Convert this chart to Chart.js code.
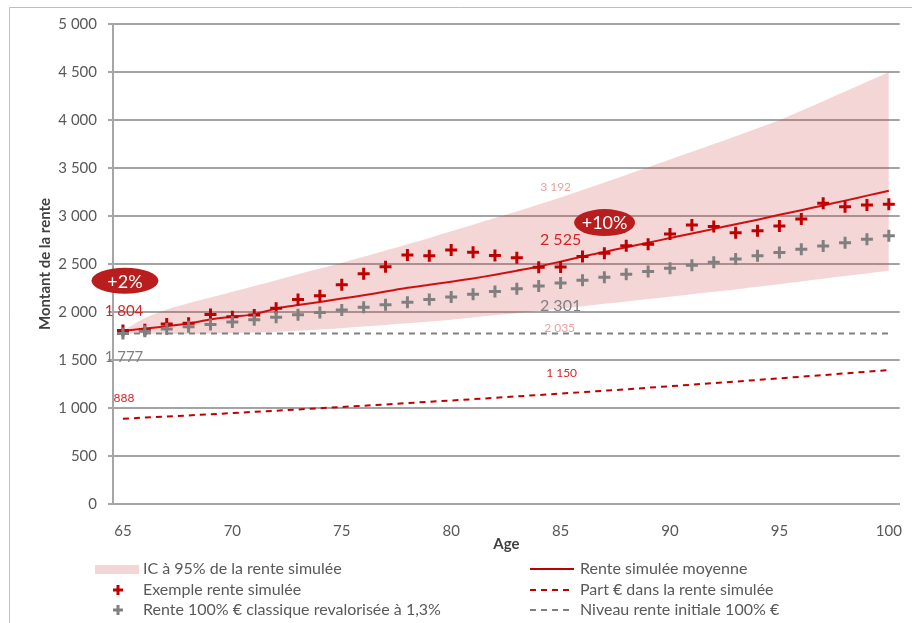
<!DOCTYPE html>
<html>
<head>
<meta charset="utf-8">
<script src="https://cdn.jsdelivr.net/npm/chart.js@4.4.1/dist/chart.umd.min.js"></script>
<style>
  html, body { margin: 0; padding: 0; background: #ffffff; }
  #wrap { position: relative; width: 912px; height: 623px; }
</style>
</head>
<body>
<div id="wrap"><canvas id="c" width="912" height="623"></canvas></div>
<script>
// Âge du rentier
const ages = [65,66,67,68,69,70,71,72,73,74,75,76,77,78,79,80,81,82,83,84,85,86,87,88,89,90,91,92,93,94,95,96,97,98,99,100];

// Intervalle de confiance à 95 % de la rente simulée (bornes basse et haute)
const icBas = [1777,1775,1772,1772,1775,1780,1787,1795,1805,1818,1832,1848,1865,1882,1900,1920,1942,1965,1988,2012,2035,2060,2085,2110,2135,2160,2185,2210,2235,2262,2290,2318,2346,2374,2402,2430];
const icHaut = [1804,1935,2025,2090,2150,2210,2270,2330,2392,2452,2512,2575,2640,2705,2772,2840,2908,2978,3048,3120,3192,3270,3348,3428,3508,3588,3668,3750,3832,3915,3998,4096,4196,4296,4398,4500];

// Exemple de trajectoire simulée
const exempleRente = [1806,1815,1875,1882,1975,1950,1968,2038,2130,2168,2285,2398,2472,2594,2585,2646,2622,2588,2566,2465,2468,2578,2612,2690,2705,2812,2906,2890,2826,2847,2896,2970,3132,3097,3115,3122];

// Rente 100 % € classique revalorisée à 1,3 %
const rente100 = [1777,1800,1823,1847,1871,1896,1920,1945,1971,1996,2022,2049,2075,2102,2130,2157,2185,2214,2243,2272,2301,2331,2361,2392,2423,2455,2487,2519,2552,2585,2619,2653,2687,2722,2758,2793];

// Rente simulée moyenne
const renteMoyenne = [1804,1828,1852,1880,1922,1950,1978,2035,2072,2105,2140,2175,2213,2252,2284,2316,2350,2388,2430,2474,2525,2578,2625,2675,2722,2770,2818,2866,2914,2962,3012,3060,3110,3160,3212,3264];

// Part € dans la rente simulée
const partEuro = [888,900,911,923,935,947,960,972,985,998,1011,1024,1037,1051,1065,1078,1092,1106,1121,1135,1150,1165,1180,1195,1211,1227,1243,1259,1275,1292,1309,1326,1343,1361,1378,1396];

// Niveau de la rente initiale 100 % €
const niveauInitial = [1777,1777,1777,1777,1777,1777,1777,1777,1777,1777,1777,1777,1777,1777,1777,1777,1777,1777,1777,1777,1777,1777,1777,1777,1777,1777,1777,1777,1777,1777,1777,1777,1777,1777,1777,1777];

// Graduations des axes
const xTicks = [65,70,75,80,85,90,95,100];
const yTicks = [0,500,1000,1500,2000,2500,3000,3500,4000,4500,5000];
const yTickLabels = ['0','500','1 000','1 500','2 000','2 500','3 000','3 500','4 000','4 500','5 000'];

const FONT = 'Lato, "Open Sans", sans-serif';
const ROUGE = '#c00000';
const GRIS = '#808080';
const ROSE = 'rgba(206, 62, 68, 0.21)';

const pts = arr => ages.map((a, i) => ({ x: a, y: arr[i] }));
const fmt = v => String(Math.round(v)).replace(/\B(?=(\d{3})+(?!\d))/g, ' ');

// Cadre autour du graphique
const cadre = {
  id: 'cadre',
  beforeDraw(chart) {
    const ctx = chart.ctx;
    ctx.save();
    ctx.fillStyle = '#ffffff';
    ctx.fillRect(0, 0, chart.width, chart.height);
    ctx.strokeStyle = '#bfbfbf';
    ctx.lineWidth = 1;
    ctx.beginPath();
    ctx.moveTo(9.5, chart.height);
    ctx.lineTo(9.5, 7.5);
    ctx.lineTo(chart.width, 7.5);
    ctx.stroke();
    ctx.restore();
  }
};

// Étiquettes de valeurs et bulles d'écart
const etiquettes = {
  id: 'etiquettes',
  afterDatasetsDraw(chart) {
    const ctx = chart.ctx;
    const xs = chart.scales.x, ys = chart.scales.y;
    const items = [
      { data: renteMoyenne, i: 0,  dx: 1,  dy: -20, color: '#d02828', size: 15 },
      { data: rente100,     i: 0,  dx: 1,  dy: 24,  color: '#7f7f7f', size: 15 },
      { data: partEuro,     i: 0,  dx: 1,  dy: -21, color: '#d02828', size: 12 },
      { data: icHaut,       i: 20, dx: -5, dy: -10, color: '#eaa0a0', size: 12 },
      { data: renteMoyenne, i: 20, dx: 0,  dy: -22, color: '#d02828', size: 16 },
      { data: rente100,     i: 20, dx: 0,  dy: 23,  color: '#7f7f7f', size: 16 },
      { data: icBas,        i: 20, dx: -1, dy: 19,  color: '#eaa0a0', size: 12 },
      { data: partEuro,     i: 20, dx: 1,  dy: -20, color: '#d02828', size: 12 }
    ];
    ctx.save();
    ctx.textAlign = 'center';
    ctx.textBaseline = 'middle';
    items.forEach(it => {
      const px = xs.getPixelForValue(ages[it.i]) + it.dx;
      const py = ys.getPixelForValue(it.data[it.i]) + it.dy;
      ctx.font = it.size + 'px ' + FONT;
      ctx.fillStyle = it.color;
      ctx.fillText(fmt(it.data[it.i]), px, py);
    });

    const bulles = [
      { i: 0,  dx: 2,  dy: -50, w: 67, h: 26, text: '+' + Math.round((renteMoyenne[0] / rente100[0] - 1) * 100) + '%' },
      { i: 20, dx: 44, dy: -39, w: 61, h: 27, text: '+' + Math.round((renteMoyenne[20] / rente100[20] - 1) * 100) + '%' }
    ];
    bulles.forEach(b => {
      const cx = xs.getPixelForValue(ages[b.i]) + b.dx;
      const cy = ys.getPixelForValue(renteMoyenne[b.i]) + b.dy;
      ctx.fillStyle = '#b81e1e';
      ctx.beginPath();
      ctx.ellipse(cx, cy, b.w / 2, b.h / 2, 0, 0, Math.PI * 2);
      ctx.fill();
      ctx.fillStyle = '#ffffff';
      ctx.font = '18px ' + FONT;
      ctx.fillText(b.text, cx, cy + 1);
    });
    ctx.restore();
  }
};

// Légende sur deux colonnes
const legende = {
  id: 'legende',
  afterDraw(chart) {
    const ctx = chart.ctx;
    ctx.save();
    ctx.font = '16px ' + FONT;
    ctx.textBaseline = 'middle';
    ctx.textAlign = 'left';
    const rows = [569, 590, 610];

    // colonne gauche
    ctx.fillStyle = ROSE;
    ctx.fillRect(95, rows[0] - 4, 44, 9);
    const croix = (x, y, color) => {
      ctx.strokeStyle = color;
      ctx.lineWidth = 3;
      ctx.beginPath();
      ctx.moveTo(x - 5, y); ctx.lineTo(x + 5, y);
      ctx.moveTo(x, y - 5); ctx.lineTo(x, y + 5);
      ctx.stroke();
    };
    croix(118, rows[1], ROUGE);
    croix(118, rows[2], GRIS);
    ctx.fillStyle = '#595959';
    ctx.fillText('IC à 95% de la rente simulée', 143, rows[0]);
    ctx.fillText('Exemple rente simulée', 143, rows[1]);
    ctx.fillText('Rente 100% € classique revalorisée à 1,3%', 143, rows[2]);

    // colonne droite
    const trait = (y, color, dash) => {
      ctx.strokeStyle = color;
      ctx.lineWidth = 2;
      ctx.setLineDash(dash);
      ctx.beginPath();
      ctx.moveTo(530, y); ctx.lineTo(574, y);
      ctx.stroke();
    };
    trait(rows[0], ROUGE, []);
    trait(rows[1], ROUGE, [6, 5]);
    trait(rows[2], GRIS, [6, 5]);
    ctx.setLineDash([]);
    ctx.fillText('Rente simulée moyenne', 580, rows[0]);
    ctx.fillText('Part € dans la rente simulée', 580, rows[1]);
    ctx.fillText('Niveau rente initiale 100% €', 580, rows[2]);
    ctx.restore();
  }
};

new Chart(document.getElementById('c'), {
  type: 'line',
  data: {
    datasets: [
      { label: 'IC bas', data: pts(icBas), borderWidth: 0, pointRadius: 0, fill: false, order: 10, cubicInterpolationMode: 'monotone' },
      { label: 'IC à 95% de la rente simulée', data: pts(icHaut), borderWidth: 0, pointRadius: 0, backgroundColor: ROSE, fill: '-1', order: 9, cubicInterpolationMode: 'monotone' },
      { label: 'Niveau rente initiale 100% €', data: pts(niveauInitial), borderColor: GRIS, borderWidth: 2, borderDash: [6, 5], pointRadius: 0, order: 8 },
      { label: 'Part € dans la rente simulée', data: pts(partEuro), borderColor: ROUGE, borderWidth: 2, borderDash: [6, 5], pointRadius: 0, order: 7 },
      { label: 'Rente simulée moyenne', data: pts(renteMoyenne), borderColor: '#d01010', borderWidth: 2, pointRadius: 0, order: 6, tension: 0.3 },
      { label: 'Exemple rente simulée', data: pts(exempleRente), showLine: false, pointStyle: 'cross', pointRadius: 6, pointBorderWidth: 3, pointBorderColor: ROUGE, borderColor: ROUGE, order: 5 },
      { label: 'Rente 100% € classique revalorisée à 1,3%', data: pts(rente100), showLine: false, pointStyle: 'cross', pointRadius: 6, pointBorderWidth: 3, pointBorderColor: GRIS, borderColor: GRIS, order: 4 }
    ]
  },
  options: {
    responsive: false,
    animation: false,
    devicePixelRatio: 1,
    layout: { padding: { left: 0, right: 8, top: 24, bottom: 0 } },
    plugins: {
      legend: { display: false },
      tooltip: { enabled: false },
      filler: { propagate: false }
    },
    scales: {
      x: {
        type: 'linear',
        min: 64.545,
        max: 100.5,
        afterBuildTicks: s => { s.ticks = xTicks.map(v => ({ value: v })); },
        afterFit: s => { s.height = 119; },
        grid: { display: false },
        border: { display: true, color: '#a6a6a6', width: 2 },
        ticks: { color: '#595959', font: { family: FONT, size: 15 }, padding: 10, maxRotation: 0, autoSkip: false },
        title: { display: true, text: 'Age', color: '#404040', font: { family: FONT, size: 15, weight: 'bold' }, padding: { top: 0, bottom: 70 } }
      },
      y: {
        min: 0,
        max: 5000,
        afterBuildTicks: s => { s.ticks = yTicks.map(v => ({ value: v })); },
        afterFit: s => { s.width = 113; },
        grid: { color: '#a4a4a4', lineWidth: 2, tickLength: 5, drawTicks: true },
        border: { display: true, color: '#a6a6a6', width: 2 },
        ticks: {
          color: '#595959', font: { family: FONT, size: 15 }, padding: 11,
          callback: (v, i) => yTickLabels[i]
        },
        title: { display: true, text: 'Montant de la rente', color: '#404040', font: { family: FONT, size: 15, weight: 'bold' }, padding: { top: 36, bottom: 0 } }
      }
    }
  },
  plugins: [cadre, etiquettes, legende]
});
</script>
</body>
</html>
